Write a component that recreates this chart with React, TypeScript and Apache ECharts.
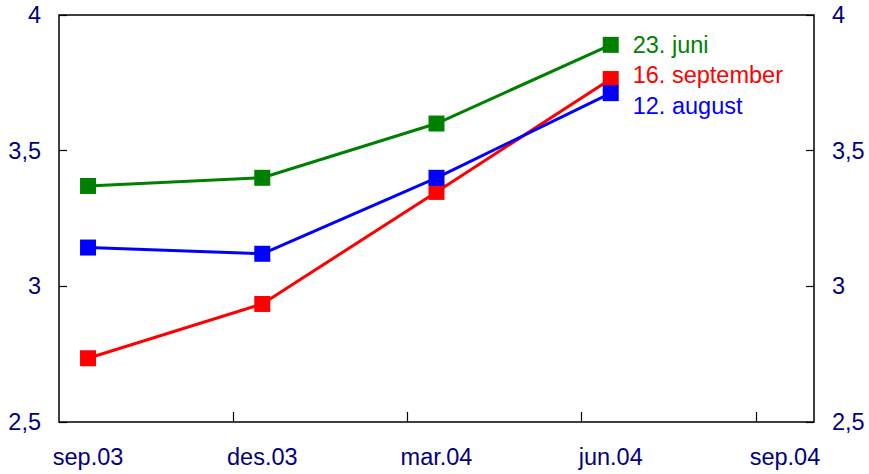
import React, { useEffect, useRef } from 'react';
import * as echarts from 'echarts';

// Categories (quarters); data sit mid-month, axis runs in months from sep.03
const categories = ['sep.03', 'des.03', 'mar.04', 'jun.04', 'sep.04'];
const monthsPerCategory = 3;
const seriesNames = ['23. juni', '16. september', '12. august'];
const juni = [3.37, 3.40, 3.60, 3.89];
const september = [2.735, 2.935, 3.348, 3.764];
const august = [3.143, 3.12, 3.40, 3.712];
const seriesColors = ['#008000', '#ff0000', '#0000ff'];
const labelOffsetsY = [0, -4, 13];
const yMin = 2.5;
const yMax = 4;
const yStep = 0.5;

const FONT = 'Arial, "Liberation Sans", sans-serif';
const AXIS_COLOR = '#000080';
const FONT_SIZE = 23.5;

export default function App() {
  const ref = useRef<HTMLDivElement>(null);
  useEffect(() => {
    if (!ref.current) return;
    const chart = echarts.init(ref.current, undefined, { renderer: 'svg' });
    const labelValues = categories.map((_, i) => i * monthsPerCategory);
    const tickValues = categories.slice(1).map((_, i) => (i + 1) * monthsPerCategory - 0.5);
    const byMonth = (i: number) => i * monthsPerCategory;
    const yLabel = (v: number) => String(v).replace('.', ',');
    const allData = [juni, september, august];

    const yAxisCommon = {
      type: 'value' as const,
      min: yMin,
      max: yMax,
      interval: yStep,
      axisLine: { show: false, onZero: false },
      axisTick: { show: true, inside: true, length: 8, lineStyle: { color: '#000', width: 1.2 } },
      splitLine: { show: false },
      axisLabel: {
        formatter: yLabel,
        color: AXIS_COLOR,
        fontSize: FONT_SIZE,
        fontFamily: FONT,
        margin: 18,
      },
    };

    chart.setOption({
      animation: false,
      backgroundColor: '#ffffff',
      grid: {
        left: 59,
        right: 55,
        top: 15,
        bottom: 52,
        show: true,
        borderColor: '#000',
        borderWidth: 1.5,
        containLabel: false,
      },
      xAxis: {
        type: 'value',
        min: -0.5,
        max: (categories.length - 1) * monthsPerCategory + 0.5,
        axisLine: { show: false, onZero: false },
        splitLine: { show: false },
        axisTick: {
          show: true,
          inside: true,
          length: 10,
          customValues: tickValues,
          lineStyle: { color: '#000', width: 1.2 },
        },
        axisLabel: {
          customValues: labelValues,
          formatter: (v: number) => categories[Math.round(v / monthsPerCategory)] ?? '',
          color: AXIS_COLOR,
          fontSize: FONT_SIZE,
          fontFamily: FONT,
          margin: 23,
        },
      },
      yAxis: [
        { ...yAxisCommon, position: 'left' },
        { ...yAxisCommon, position: 'right' },
      ],
      series: allData.map((arr, s) => ({
        type: 'line',
        name: seriesNames[s],
        yAxisIndex: 0,
        data: arr.map((v, i) => [byMonth(i), v]),
        symbol: 'rect',
        symbolSize: 16,
        lineStyle: { color: seriesColors[s], width: 3 },
        itemStyle: { color: seriesColors[s] },
        z: 2 + s,
        endLabel: {
          show: true,
          formatter: '{a}',
          distance: 22,
          offset: [0, labelOffsetsY[s]],
          color: seriesColors[s],
          fontSize: FONT_SIZE,
          fontFamily: FONT,
        },
      })),
    });
    return () => chart.dispose();
  }, []);
  return (
    <div
      ref={ref}
      style={{ position: 'fixed', left: 0, top: 0, width: 869, height: 474 }}
    />
  );
}
